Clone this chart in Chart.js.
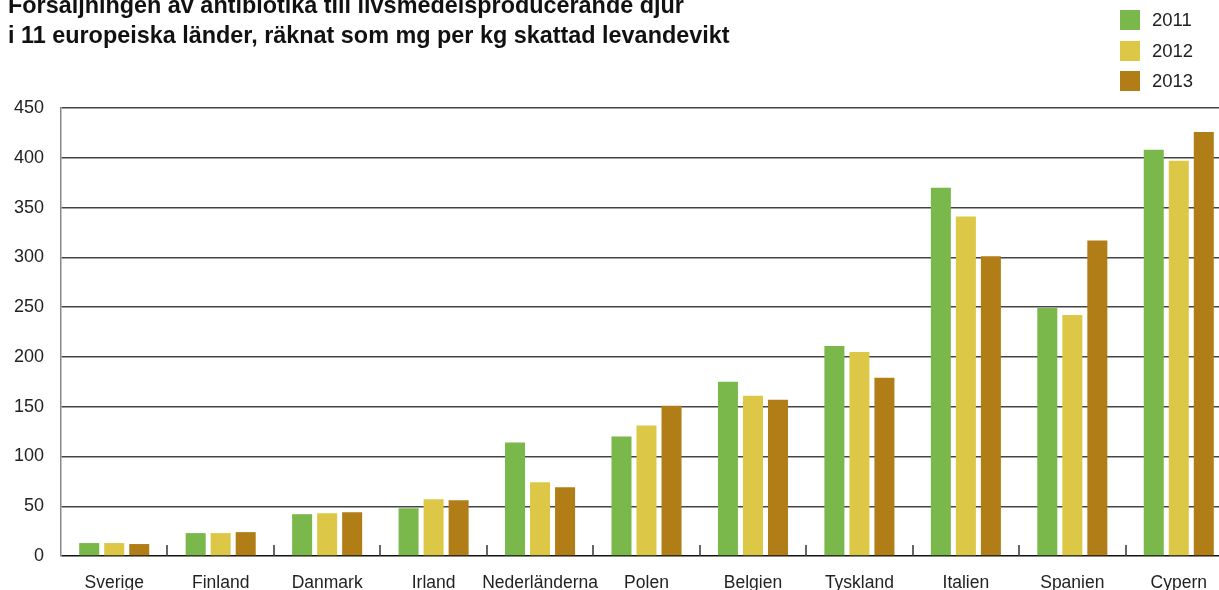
<!DOCTYPE html>
<html>
<head>
<meta charset="utf-8">
<script src="https://cdn.jsdelivr.net/npm/chart.js@4.4.1/dist/chart.umd.min.js"></script>
<style>
  html, body { margin: 0; padding: 0; background: #fff; overflow: hidden; }
  #wrap { position: relative; width: 1232px; height: 600px; }
  #title {
    position: absolute; left: 8px; top: -10px; margin: 0;
    font-family: "Liberation Sans Narrow", "Liberation Sans", sans-serif;
    font-weight: bold; font-size: 23.4px; line-height: 30px; color: #111;
  }
  #legend { position: absolute; left: 1120px; top: 10px; font-family: "Liberation Sans", sans-serif; font-size: 18.5px; color: #222; }
  #legend div { height: 30.5px; display: flex; align-items: flex-start; }
  #legend span.box { display: inline-block; width: 20px; height: 20px; margin-right: 12px; }
  #legend span.lbl { line-height: 20px; }
</style>
</head>
<body>
<div id="wrap">
  <canvas id="c" width="1232" height="600"></canvas>
  <p id="title">Försäljningen av antibiotika till livsmedelsproducerande djur<br>i 11 europeiska länder, räknat som mg per kg skattad levandevikt</p>
  <div id="legend"></div>
</div>
<script>
document.addEventListener('DOMContentLoaded', function () {

	'use strict';

	// data
	const countries = ['Sverige', 'Finland', 'Danmark', 'Irland', 'Nederländerna', 'Polen',
		'Belgien', 'Tyskland', 'Italien', 'Spanien', 'Cypern'];
	const years = ['2011', '2012', '2013'];
	const sales2011 = [13, 23, 42, 48, 114, 120, 175, 211, 370, 249, 408];
	const sales2012 = [13, 23, 43, 57, 74, 131, 161, 205, 341, 242, 397];
	const sales2013 = [12, 24, 44, 56, 69, 151, 157, 179, 301, 317, 426];
	const yTicks = [0, 50, 100, 150, 200, 250, 300, 350, 400, 450];

	const colors = ['#7ab84b', '#dcc846', '#b07d17'];
	const series = [sales2011, sales2012, sales2013];

	// small tick marks between the categories, pointing up from the baseline
	const catTicks = {
		id: 'catTicks',
		afterDatasetsDraw: function (chart) {
			const x = chart.scales.x;
			const a = chart.chartArea;
			const ctx = chart.ctx;
			ctx.save();
			ctx.strokeStyle = '#333';
			ctx.lineWidth = 1.5;
			for (let i = 1; i < countries.length; i++) {
				const px = Math.round((x.getPixelForValue(i - 1) + x.getPixelForValue(i)) / 2);
				ctx.beginPath();
				ctx.moveTo(px, a.bottom);
				ctx.lineTo(px, a.bottom - 11);
				ctx.stroke();
			}
			ctx.restore();
		}
	};

	new Chart('c', {
		type: 'bar',
		data: {
			labels: countries,
			datasets: years.map(function (y, i) {
				return {
					label: y,
					data: series[i],
					backgroundColor: colors[i],
					borderWidth: 0,
					barPercentage: 0.8,
					categoryPercentage: 0.705
				};
			})
		},
		options: {
			responsive: false,
			animation: false,
			layout: { padding: { top: 108, left: 0, right: 0, bottom: 0 } },
			plugins: { legend: { display: false }, tooltip: { enabled: false } },
			scales: {
				x: {
					grid: { display: false },
					border: { display: false },
					ticks: {
						color: '#222',
						font: { family: 'Liberation Sans', size: 17.5 },
						padding: 9,
						maxRotation: 0,
						autoSkip: false
					},
					afterFit: function (s) { s.height = 44; }
				},
				y: {
					min: 0,
					max: 450,
					afterBuildTicks: function (s) { s.ticks = yTicks.map(function (v) { return { value: v }; }); },
					grid: {
						color: function (c) { return c.tick.value === 0 ? '#111' : '#444'; },
						lineWidth: 1.4,
						drawTicks: false
					},
					border: { display: true, color: '#888', width: 1.5 },
					ticks: {
						color: '#222',
						font: { family: 'Liberation Sans', size: 18 },
						padding: 17
					},
					afterFit: function (s) { s.width = 61; }
				}
			}
		},
		plugins: [catTicks]
	});

	// legend built from the same series
	const leg = document.getElementById('legend');
	years.forEach(function (y, i) {
		const row = document.createElement('div');
		row.innerHTML = '<span class="box" style="background:' + colors[i] + '"></span><span class="lbl">' + y + '</span>';
		leg.appendChild(row);
	});
});
</script>
</body>
</html>
